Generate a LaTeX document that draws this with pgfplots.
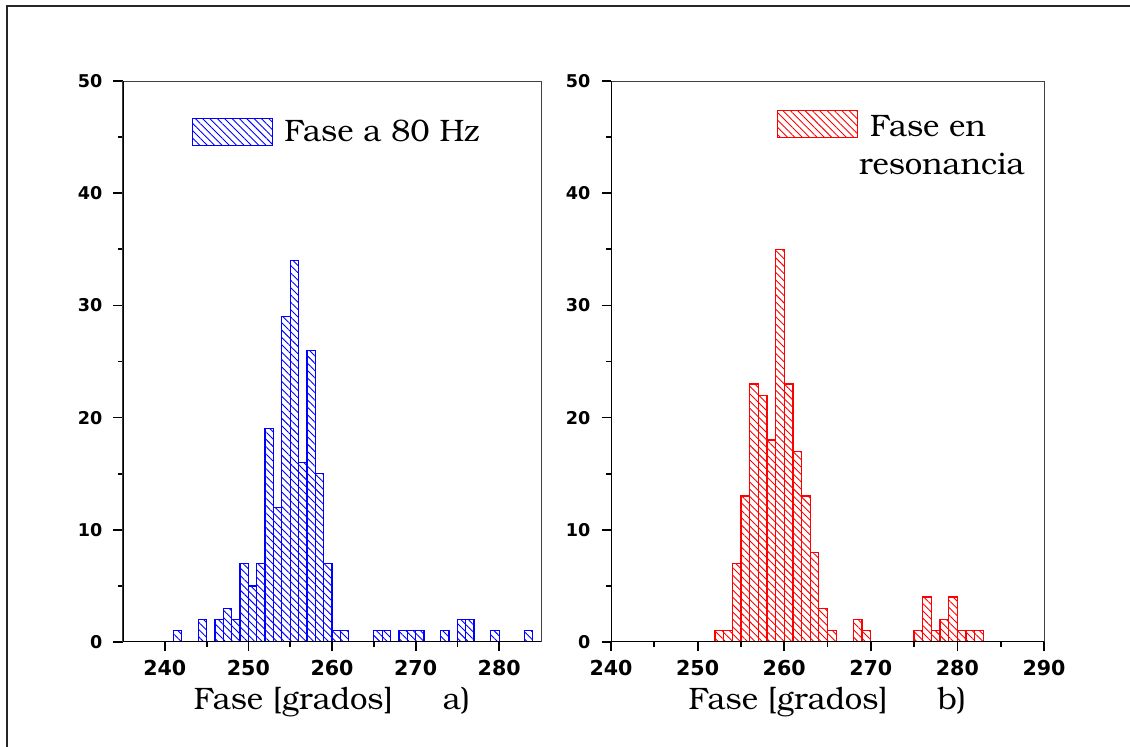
\documentclass[border=0pt]{standalone}
\usepackage{fontspec}
\setmainfont{texgyrebonum}[Extension=.otf, UprightFont=*-regular, BoldFont=*-bold, ItalicFont=*-italic, BoldItalicFont=*-bolditalic]
\newfontfamily\tickfont{DejaVu Sans}
\usepackage{pgfplots}
\pgfplotsset{compat=1.18}
\usetikzlibrary{patterns.meta}

\pgfplotsset{histo/.style={
  scale only axis, ybar, bar width=1, bar shift=0pt,
  ymin=0, ymax=50, ytick={0,10,...,50}, minor y tick num=1, minor x tick num=1,
  xtick pos=left, ytick pos=left, tick align=outside,
  major tick length=4.75pt, minor tick length=2.4pt,
  tick style={black, line width=0.9pt},
  axis line style={black!75, line width=0.5pt},
  /pgf/number format/assume math mode=true,
  xticklabel style={font=\tickfont\bfseries\fontsize{10.3}{12}\selectfont, yshift=-1pt},
  yticklabel style={font=\tickfont\bfseries\fontsize{8.8}{10}\selectfont, xshift=-2pt},
  xlabel style={at={(rel axis cs:0.5,0)}, anchor=base, yshift=-34pt,
    font=\fontsize{15.5}{18}\selectfont},
  legend style={draw=none, fill=none, anchor=north west, inner sep=0pt, outer sep=0pt,
    nodes={inner sep=0pt}, font=\fontsize{15.5}{19.3}\selectfont},
  legend cell align=left,
}}

\begin{document}
\begin{tikzpicture}
\draw[line width=0.85pt, black!85] (3.35pt,-500pt) |- (700pt,-3pt);

% a) fase a 80 Hz
\begin{axis}[histo, at={(61.5pt,-321pt)}, anchor=south west,
  width=209pt, height=280.5pt,
  xmin=235, xmax=285, xtick={240,250,...,280},
  xlabel={Fase [grados]\hspace{25pt}a)},
  legend style={at={(rel axis cs:0.165,0.934)}, /tikz/column sep=5.5pt},
  legend image code/.code={\draw[draw=blue, line width=0.65pt,
    pattern={Lines[angle=-45,distance=2.6pt,line width=0.45pt]}, pattern color=blue]
    (0pt,-6.75pt) rectangle (40pt,6.75pt);}]
\addplot[draw=blue, line width=0.65pt,
  pattern={Lines[angle=-45,distance=2.6pt,line width=0.45pt]}, pattern color=blue]
  coordinates {
  (241.5,1) (244.5,2) (246.5,2) (247.5,3) (248.5,2) (249.5,7) (250.5,5)
  (251.5,7) (252.5,19) (253.5,12) (254.5,29) (255.5,34) (256.5,16)
  (257.5,26) (258.5,15) (259.5,7) (260.5,1) (261.5,1) (265.5,1) (266.5,1)
  (268.5,1) (269.5,1) (270.5,1) (273.5,1) (275.5,2) (276.5,2) (279.5,1)
  (283.5,1)};
\addlegendentry{Fase a 80 Hz}
\draw[line width=1pt] (rel axis cs:0,1) -- (rel axis cs:0,0) -- (rel axis cs:1,0);
\end{axis}

% b) fase en resonancia
\begin{axis}[histo, at={(305.5pt,-321pt)}, anchor=south west,
  width=216.5pt, height=280.5pt,
  xmin=240, xmax=290, xtick={240,250,...,290},
  xlabel={Fase [grados]\hspace{25pt}b)},
  legend style={at={(rel axis cs:0.383,0.950)}, /tikz/column sep=0.5pt},
  legend image code/.code={\draw[draw=red, line width=0.65pt,
    pattern={Lines[angle=-45,distance=2.6pt,line width=0.45pt]}, pattern color=red]
    (0pt,-6.75pt) rectangle (40pt,6.75pt);}]
\addplot[draw=red, line width=0.65pt,
  pattern={Lines[angle=-45,distance=2.6pt,line width=0.45pt]}, pattern color=red]
  coordinates {
  (252.5,1) (253.5,1) (254.5,7) (255.5,13) (256.5,23) (257.5,22) (258.5,18)
  (259.5,35) (260.5,23) (261.5,17) (262.5,13) (263.5,8) (264.5,3) (265.5,1)
  (268.5,2) (269.5,1) (275.5,1) (276.5,4) (277.5,1) (278.5,2) (279.5,4)
  (280.5,1) (281.5,1) (282.5,1)};
\addlegendentry{\begin{tabular}[t]{@{}l@{}}\hspace{5.5pt}Fase en\\resonancia\end{tabular}}
\draw[line width=1pt] (rel axis cs:0,1) -- (rel axis cs:0,0) -- (rel axis cs:1,0);
\end{axis}

\pgfresetboundingbox
\useasboundingbox (0,0) rectangle (565pt,-373.5pt);
\end{tikzpicture}
\end{document}
